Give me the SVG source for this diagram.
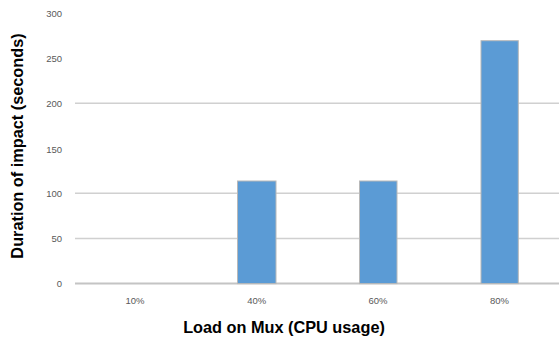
<svg xmlns="http://www.w3.org/2000/svg" width="559" height="341" viewBox="0 0 559 341">
<style>
.grid{stroke:#d0d0d0;stroke-width:1.5;fill:none}
.axis{stroke:#c4c4c4;stroke-width:2;fill:none}
.bar{fill:#5b9bd5;stroke:#b8b8b8;stroke-width:1}
.tick{font-family:"Liberation Sans",Arial,sans-serif;font-size:9.5px;fill:#595959}
.title{font-family:"Liberation Sans",Arial,sans-serif;font-size:16.3px;font-weight:bold;fill:#000}
</style>
<rect width="559" height="341" fill="#fff"/>
<g id="gridlines">
<line class="grid" x1="75" y1="103.3" x2="559" y2="103.3"/>
<line class="grid" x1="75" y1="193.3" x2="559" y2="193.3"/>
<line class="grid" x1="75" y1="238.6" x2="559" y2="238.6"/>
<line class="axis" x1="75" y1="283.6" x2="559" y2="283.6"/>
</g>
<g id="y-labels" class="tick" text-anchor="end">
<text x="62" y="16.6">300</text>
<text x="62" y="61.8">250</text>
<text x="62" y="106.6">200</text>
<text x="62" y="152.6">150</text>
<text x="62" y="196.6">100</text>
<text x="62" y="242">50</text>
<text x="62" y="287">0</text>
</g>
<g id="bars">
<rect id="bar-40" class="bar" x="237.5" y="181" width="38.5" height="102.6"/>
<rect id="bar-60" class="bar" x="359.5" y="181" width="37.5" height="102.6"/>
<rect id="bar-80" class="bar" x="481" y="40.7" width="37.3" height="242.9"/>
</g>
<g id="x-labels" class="tick" text-anchor="middle">
<text x="135" y="304">10%</text>
<text x="256.7" y="304">40%</text>
<text x="378" y="304">60%</text>
<text x="499.5" y="304">80%</text>
</g>
<text id="x-title" class="title" x="284" y="333" text-anchor="middle">Load on Mux (CPU usage)</text>
<text id="y-title" class="title" x="0" y="0" text-anchor="middle" transform="translate(23,146) rotate(-90)">Duration of impact (seconds)</text>
</svg>
